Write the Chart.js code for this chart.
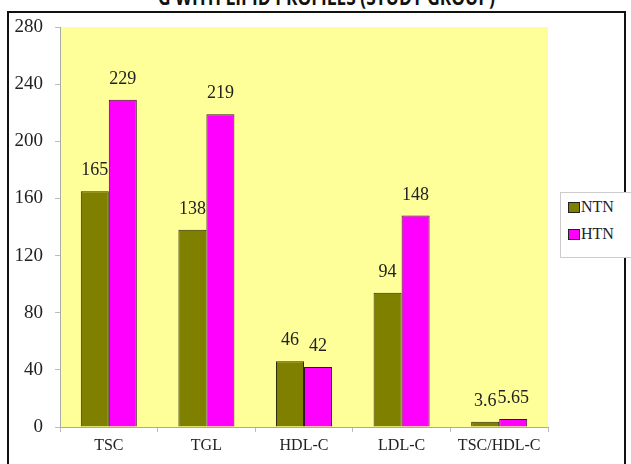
<!DOCTYPE html>
<html>
<head>
<meta charset="utf-8">
<script src="https://cdn.jsdelivr.net/npm/chart.js@4"></script>
<style>
  html, body { margin: 0; padding: 0; background: #fff; }
  #wrap { position: relative; width: 631px; height: 464px; overflow: hidden; background: #fff; }
  #frame { position: absolute; left: 7px; top: 11px; width: 619px; height: 470px; border: 2px solid #111; box-sizing: border-box; }
  #title { position: absolute; left: 158px; top: -13px; font-family: "Open Sans", sans-serif; font-weight: bold; font-size: 21px; line-height: 20px; color: #111; white-space: nowrap; transform-origin: 0 0; }
  #c { position: absolute; left: 0; top: 0; }
  #legend { position: absolute; left: 560px; top: 192px; width: 80px; height: 64px; border: 1px solid #ccc; background: #fff; font-family: "Liberation Serif", "Times New Roman", serif; font-size: 16px; color: #222; }
  .item { position: absolute; left: 7px; height: 18px; line-height: 18px; }
  .sw { display: inline-block; width: 10px; height: 9px; border: 1px solid #222; vertical-align: middle; margin-right: 1px; position: relative; top: -1px; }
</style>
</head>
<body>
<div id="wrap">
  <div id="frame"></div>
  <div id="title">G WITH LIPID PROFILES (STUDY GROUP)</div>
  <canvas id="c" width="631" height="464"></canvas>
  <div id="legend">
    <div class="item" style="top:5px"><span class="sw" style="background:#808000"></span>NTN</div>
    <div class="item" style="top:32px"><span class="sw" style="background:#ff00ff"></span>HTN</div>
  </div>
</div>
<script>
const categories = ["TSC", "TGL", "HDL-C", "LDL-C", "TSC/HDL-C"];
const ntnValues = [165, 138, 46, 94, 3.6];
const htnValues = [229, 219, 42, 148, 5.65];
const seriesNames = ["NTN", "HTN"];
const yTicks = [0, 40, 80, 120, 160, 200, 240, 280];

// fit title width
(function(){
  const t = document.getElementById('title');
  const w = t.getBoundingClientRect().width;
  t.style.transform = 'scaleX(' + (337 / w) + ')';
})();

const plotBg = {
  id: 'plotBg',
  beforeDraw(chart) {
    const {ctx, chartArea: a} = chart;
    ctx.save();
    ctx.fillStyle = '#ffff99';
    ctx.fillRect(a.left, a.top, a.right - a.left, a.bottom - a.top);
    ctx.restore();
  }
};

const valueLabels = {
  id: 'valueLabels',
  afterDatasetsDraw(chart) {
    const ctx = chart.ctx;
    ctx.save();
    ctx.font = '18px "Liberation Serif", "Times New Roman", serif';
    ctx.fillStyle = '#222';
    ctx.textAlign = 'center';
    ctx.textBaseline = 'alphabetic';
    chart.data.datasets.forEach((ds, i) => {
      chart.getDatasetMeta(i).data.forEach((bar, j) => {
        ctx.fillText(String(ds.data[j]), bar.x, bar.y - 16);
      });
    });
    ctx.restore();
  }
};

new Chart(document.getElementById('c'), {
  type: 'bar',
  data: {
    labels: categories,
    datasets: [
      { label: seriesNames[0], data: ntnValues, backgroundColor: '#808000', borderColor: '#2a2a10', borderWidth: 1 },
      { label: seriesNames[1], data: htnValues, backgroundColor: '#ff00ff', borderColor: '#3a1030', borderWidth: 1 }
    ]
  },
  options: {
    responsive: false,
    animation: false,
    devicePixelRatio: 1,
    layout: { padding: { left: 0, right: 83, top: 27, bottom: 0 } },
    plugins: { legend: { display: false }, tooltip: { enabled: false } },
    datasets: { bar: { categoryPercentage: 0.574, barPercentage: 1 } },
    scales: {
      x: {
        afterFit(s) { s.height = 37; },
        grid: { offset: true, drawOnChartArea: false, drawTicks: true, tickLength: 5, color: '#bbb' },
        border: { color: '#aaa', width: 1 },
        ticks: { color: '#222', padding: 4, font: { family: '"Liberation Serif", "Times New Roman", serif', size: 16 } }
      },
      y: {
        min: 0, max: 280,
        afterFit(s) { s.width = 60; },
        afterBuildTicks(s) { s.ticks = yTicks.map(v => ({ value: v })); },
        grid: { drawOnChartArea: false, drawTicks: true, tickLength: 5, color: '#bbb' },
        border: { color: '#aaa', width: 1 },
        ticks: { color: '#222', padding: 12, font: { family: '"Liberation Serif", "Times New Roman", serif', size: 19 } }
      }
    }
  },
  plugins: [plotBg, valueLabels]
});
</script>
</body>
</html>
